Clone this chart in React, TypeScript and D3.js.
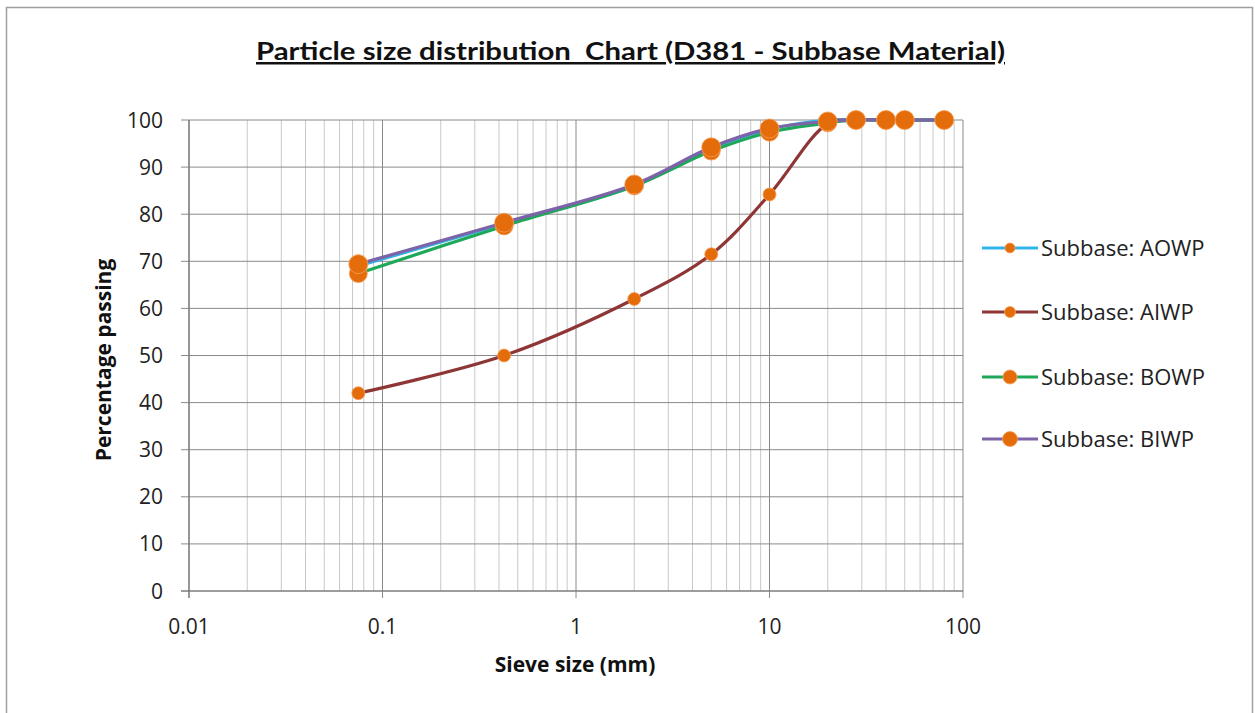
import React from "react";
import * as d3 from "d3";

const sieveSizes = [0.075, 0.425, 2, 5, 10, 20, 28, 40, 50, 80];
const aowp = [69, 78, 86, 94, 98, 100, 100, 100, 100, 100];
const aiwp = [42, 50, 62, 71.5, 84.2, 99.2, 100, 100, 100, 100];
const bowp = [67.4, 77.5, 86, 93.4, 97.4, 99.4, 100, 100, 100, 100];
const biwp = [69.4, 78.2, 86.3, 94.2, 98.2, 99.7, 100, 100, 100, 100];
const seriesNames = ["Subbase: AOWP", "Subbase: AIWP", "Subbase: BOWP", "Subbase: BIWP"];
const seriesColors = ["#31b5e8", "#8e3636", "#1ea85a", "#7d63a8"];
const xTicks = [0.01, 0.1, 1, 10, 100];
const yTicks = [0, 10, 20, 30, 40, 50, 60, 70, 80, 90, 100];

const FONT = "'Open Sans', Lato, sans-serif";
const TFONT = "Lato, 'Open Sans', sans-serif";
const MARKER = "#e46c0a";

export default function App() {
  const x = d3.scaleLog().domain([0.01, 100]).range([189, 963]);
  const y = d3.scaleLinear().domain([0, 100]).range([591, 120]);
  const allSeries = [aowp, aiwp, bowp, biwp];
  const markerR = [5.5, 6.5, 9, 9.5];
  const legendR = [5, 5.5, 7, 7.5];

  const minor: number[] = [];
  for (let d = 0.01; d < 100; d *= 10) {
    for (let k = 2; k <= 9; k++) minor.push(+(d * k).toPrecision(3));
  }

  const line = d3
    .line<[number, number]>()
    .x((d) => x(d[0]))
    .y((d) => y(d[1]))
    .curve(d3.curveCatmullRom.alpha(0.5));

  const legendY = [248, 312, 377, 439];

  return (
    <svg
      width={1255}
      height={713}
      style={{ position: "absolute", left: 0, top: 0, background: "#fff" }}
    >
      <rect x={0} y={0} width={1255} height={713} fill="#fff" />
      <rect x={6.5} y={7.5} width={1246} height={720} fill="#fff" stroke="#a0a0a0" strokeWidth={1.5} />

      <text
        x={256}
        y={60}
        fontFamily={TFONT}
        fontWeight="bold"
        fontSize={25}
        textDecoration="underline"
        fill="#111"
        xmlSpace="preserve"
        style={{ whiteSpace: "pre" }}
        textLength={749}
        lengthAdjust="spacingAndGlyphs"
      >
        {"Particle size distribution  Chart (D381 - Subbase Material)"}
      </text>

      {/* minor vertical gridlines */}
      {minor.map((m, i) => (
        <line key={"mn" + i} x1={x(m)} x2={x(m)} y1={120} y2={591} stroke="#c9c9c9" strokeWidth={1} />
      ))}
      {/* major vertical gridlines */}
      {xTicks.map((t) => (
        <line key={"mx" + t} x1={x(t)} x2={x(t)} y1={120} y2={598} stroke="#8a8a8a" strokeWidth={1} />
      ))}
      {/* horizontal gridlines */}
      {yTicks.map((t) => (
        <line key={"hy" + t} x1={181} x2={963} y1={y(t)} y2={y(t)} stroke="#8a8a8a" strokeWidth={1} />
      ))}
      <line x1={181} x2={963} y1={591} y2={591} stroke="#777" strokeWidth={1.2} />
      <line x1={189} x2={189} y1={120} y2={598} stroke="#777" strokeWidth={1.2} />

      {/* y tick labels */}
      {yTicks.map((t) => (
        <text
          key={"yl" + t}
          x={163}
          y={y(t) + 7.5}
          textAnchor="end"
          fontFamily={FONT}
          fontSize={21}
          fill="#222"
        >
          {t}
        </text>
      ))}
      {/* x tick labels */}
      {xTicks.map((t) => (
        <text
          key={"xl" + t}
          x={x(t)}
          y={634}
          textAnchor="middle"
          fontFamily={FONT}
          fontSize={21}
          fill="#222"
        >
          {String(t)}
        </text>
      ))}

      <text
        x={575}
        y={672}
        textAnchor="middle"
        fontFamily={FONT}
        fontWeight="bold"
        fontSize={21}
        fill="#111"
      >
        Sieve size (mm)
      </text>
      <text
        transform="translate(111,360) rotate(-90)"
        textAnchor="middle"
        fontFamily={FONT}
        fontWeight="bold"
        fontSize={21}
        fill="#111"
      >
        Percentage passing
      </text>

      {/* series */}
      {allSeries.map((vals, si) => {
        const pts = sieveSizes.map((s, i) => [s, vals[i]] as [number, number]);
        return (
          <g key={"s" + si}>
            <path d={line(pts) || ""} fill="none" stroke={seriesColors[si]} strokeWidth={3.2} strokeLinejoin="round" />
            {pts.map((p, i) => (
              <circle
                key={i}
                cx={x(p[0])}
                cy={y(p[1])}
                r={markerR[si]}
                fill={MARKER}
                stroke="#f5a05a"
                strokeWidth={0.8}
              />
            ))}
          </g>
        );
      })}

      {/* legend */}
      {seriesNames.map((n, i) => (
        <g key={"lg" + i}>
          <line x1={982} x2={1038} y1={legendY[i]} y2={legendY[i]} stroke={seriesColors[i]} strokeWidth={3.2} />
          <circle cx={1010} cy={legendY[i]} r={legendR[i]} fill={MARKER} stroke="#f5a05a" strokeWidth={0.8} />
          <text x={1041} y={legendY[i] + 8} fontFamily={FONT} fontSize={22} fill="#222">
            {n}
          </text>
        </g>
      ))}
    </svg>
  );
}
